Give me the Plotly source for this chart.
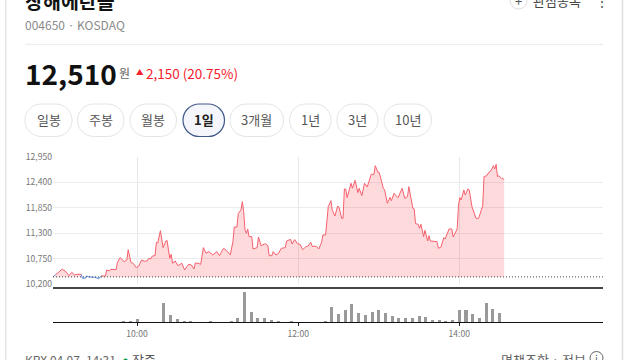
import numpy as np
import plotly.graph_objects as go

# ---- data ----
elapsed_minutes = [0,2,4,6,7,9,11,12,14,16,18,21,22,24,25,27,31,34,36,39,40,42,43,47,48,50,53,55,56,58,60,62,64,66,68,70,71,73,74,76,77,78,80,82,84,85,86,87,88,89,91,93,96,98,101,103,105,106,108,110,112,114,116,119,122,124,127,129,132,134,135,137,138,140,141,142,143,144,145,146,148,149,152,153,155,158,160,161,163,164,166,168,170,173,174,177,178,180,182,184,186,188,190,192,193,196,198,200,201,203,205,207,208,210,212,213,215,216,217,218,219,222,223,225,227,228,230,232,234,237,239,240,242,243,246,247,249,251,252,254,255,257,260,262,264,265,268,269,270,272,273,274,276,277,279,280,281,286,287,289,291,292,295,297,298,301,302,303,304,306,307,309,310,312,315,317,319,320,321,323,325,326,328,329,330,331,332,334,336]
prices = [10358,10416,10452,10510,10524,10488,10430,10387,10459,10402,10416,10416,10330,10330,10380,10358,10351,10322,10380,10380,10510,10488,10524,10517,10675,10776,10690,10726,10949,10675,10646,10560,10603,10726,10697,10704,10754,10754,10812,10819,11107,11093,11359,10992,11136,11143,10942,10762,10848,10654,10704,10603,10654,10510,10632,10618,10531,10661,10654,10632,10992,10870,10906,10834,10906,10819,10978,10934,10834,11122,11438,11438,11734,11806,11986,11770,11374,11302,11395,11230,11230,10963,10992,11222,11035,11078,11035,10819,10819,10906,10834,10870,10978,10992,11136,11172,11071,11165,11078,11064,10949,11006,11028,11107,11021,11021,10963,11107,11266,11266,11878,12007,11798,11676,11892,11863,11626,11626,12259,12259,12072,12382,12274,12446,12180,12274,12115,12382,12302,12576,12576,12763,12619,12612,12274,12238,11950,12079,12007,12166,12130,12072,12274,12058,12094,12310,11842,11827,11510,11496,11410,11496,11230,11366,11136,11251,11136,11122,10978,11006,11208,11179,11395,11395,11222,11395,11914,12072,12022,12238,12130,12259,12238,11878,11626,11626,11806,11892,12526,12547,12634,12648,12763,12691,12792,12526,12547,12490,12468]
previous_close = 10360
volume_slots = list(range(-12, 55))
volumes = [.4,.4,.4,.4,0,.4,0,0,.4,.4,4,3,9,.4,.4,.4,57,22,9,5,5,.4,.4,5,.4,.4,5,14,90,30,14,12,8,2,.4,4,.4,.4,.4,.4,4,47,24,38,54,28,22,30,36,27,18,14,14,14,18,16,6,6,4,7,37,36,25,12,58,39,28]
price_ticks = [10200,10750,11300,11850,12400,12950]
price_tick_labels = ["10,200","10,750","11,300","11,850","12,400","12,950"]
time_ticks = [600,720,840]
time_tick_labels = ["10:00","12:00","14:00"]
tab_labels = ["일봉","주봉","월봉","1일","3개월","1년","3년","10년"]

# ---- derived ----
W, H = 640, 360
FONT = "Noto Sans CJK KR"
x = 537.4 + np.array(elapsed_minutes, float)
p = np.array(prices, float)
above = p >= previous_close
below = ~above
blue_mask = below | np.r_[below[1:], False] | np.r_[False, below[:-1]]
vx = 600 + 5 * np.array(volume_slots, float)

def px(v): return v / W
def py(v): return 1 - v / H

fig = go.Figure()
fig.add_trace(go.Scatter(x=x, y=np.full_like(p, previous_close), mode="lines", line=dict(width=0), hoverinfo="skip", showlegend=False))
fig.add_trace(go.Scatter(x=x, y=np.maximum(p, previous_close), mode="lines", line=dict(width=0), fill="tonexty", fillcolor="rgba(250,60,75,0.19)", hoverinfo="skip", showlegend=False))
fig.add_trace(go.Scatter(x=x, y=np.full_like(p, previous_close), mode="lines", line=dict(width=0), hoverinfo="skip", showlegend=False))
fig.add_trace(go.Scatter(x=x, y=np.minimum(p, previous_close), mode="lines", line=dict(width=0), fill="tonexty", fillcolor="rgba(60,110,230,0.19)", hoverinfo="skip", showlegend=False))
fig.add_trace(go.Scatter(x=x, y=np.where(above, p, np.nan), mode="lines", line=dict(color="#f5606c", width=1), connectgaps=False, showlegend=False))
fig.add_trace(go.Scatter(x=x, y=np.where(blue_mask, p, np.nan), mode="lines", line=dict(color="#5c8fe6", width=1), showlegend=False))
fig.add_trace(go.Bar(x=vx, y=volumes, width=2.3, marker=dict(color="#999999", line=dict(width=0)), xaxis="x2", yaxis="y2", showlegend=False))

xr = [537.4, 947]
fig.update_layout(
    width=W, height=H, margin=dict(l=0, r=0, t=0, b=0, autoexpand=False), autosize=False,
    paper_bgcolor="white", plot_bgcolor="white", showlegend=False, bargap=0,
    font=dict(family=FONT, color="#777777", size=10),
    xaxis=dict(domain=[px(53), px(603)], range=xr, anchor="y", tickvals=time_ticks, showticklabels=False,
               showgrid=True, gridcolor="#e8e8e8", gridwidth=1, zeroline=False, ticks=""),
    yaxis=dict(domain=[py(284.3), py(157)], range=[10200, 12950], tickvals=price_ticks, ticktext=price_tick_labels,
               showgrid=True, gridcolor="#ececec", gridwidth=1, zeroline=False, ticks="", ticklen=0,
               tickfont=dict(size=8.6, color="#777777", family=FONT)),
    xaxis2=dict(domain=[px(53), px(603)], range=xr, anchor="y2", tickvals=time_ticks, ticktext=time_tick_labels,
                showgrid=False, zeroline=False, ticks="outside", ticklen=3, tickcolor="#222222", tickwidth=1,
                showline=True, linecolor="#111111", linewidth=1, tickfont=dict(size=8.6, color="#777777", family=FONT)),
    yaxis2=dict(domain=[py(322.3), py(288)], range=[0, 103], showticklabels=False, showgrid=False, zeroline=False, ticks=""),
)

shapes = []
def line(x0, y0, x1, y1, color, width=1, dash=None):
    shapes.append(dict(type="line", xref="paper", yref="paper", x0=px(x0), y0=py(y0), x1=px(x1), y1=py(y1),
                       line=dict(color=color, width=width, **({"dash": dash} if dash else {})), layer="above"))

line(5.8, 0, 5.8, 360, "#e4e4e4", 1.5)
line(622.5, 0, 622.5, 360, "#dedede", 1.5)
line(25, 44.3, 603, 44.3, "#e9e9e9", 1)
line(53, 288, 603, 288, "#444444", 2)
shapes.append(dict(type="line", xref="x", yref="y", x0=xr[0], x1=xr[1], y0=previous_close, y1=previous_close,
                   line=dict(color="#444444", width=1, dash="1px,2px"), layer="above"))

def pill(x0, x1, y0=104, y1=136.5, border="#e4e4e4", fill="white", width=1):
    r = (y1 - y0) / 2
    a, b = px(x0), px(x1)
    ya, yb = py(y0), py(y1)
    rx, ry = r / W, r / H
    k = 0.5523
    d = (f"M {a+rx} {ya} L {b-rx} {ya} C {b-rx+k*rx} {ya} {b} {ya-ry+k*ry} {b} {ya-ry} "
         f"C {b} {ya-ry-k*ry} {b-rx+k*rx} {yb} {b-rx} {yb} L {a+rx} {yb} "
         f"C {a+rx-k*rx} {yb} {a} {yb+ry-k*ry} {a} {yb+ry} C {a} {yb+ry+k*ry} {a+rx-k*rx} {ya} {a+rx} {ya} Z")
    shapes.append(dict(type="path", xref="paper", yref="paper", path=d, line=dict(color=border, width=width), fillcolor=fill, layer="below"))

tab_edges = [(25,72),(77.5,124),(130,176.5),(183,224.5),(230,283.5),(289.5,331),(337,378),(384,431.5)]
for i, (a, b) in enumerate(tab_edges):
    if i == 3:
        pill(a, b, border="#41598a", fill="#f4f6fb", width=1.2)
    else:
        pill(a, b)

shapes.append(dict(type="circle", xref="paper", yref="paper", x0=px(510), x1=px(527), y0=py(9), y1=py(-8), line=dict(color="#dddddd", width=1)))
shapes.append(dict(type="circle", xref="paper", yref="paper", x0=px(590), x1=px(603), y0=py(364.5), y1=py(351.5), line=dict(color="#666666", width=1)))
fig.update_layout(shapes=shapes)

def text(s, x_, y_, size, color, anchor="left", vanchor="middle", bold=False):
    fig.add_annotation(xref="paper", yref="paper", x=px(x_), y=py(y_), text=f"<b>{s}</b>" if bold else s, showarrow=False,
                       xanchor=anchor, yanchor=vanchor, borderpad=0, borderwidth=0,
                       font=dict(size=size, color=color, family=FONT))

text("창해에탄올", 25, 1, 19.5, "#111111", bold=True)
text("004650 · KOSDAQ", 25, 25, 12, "#8a8a8a")
text("12,510", 25, 73, 28, "#111111", bold=True)
text("원", 118.5, 72.5, 12, "#666666")
text("▲", 136, 72, 7.5, "#f5202e")
text("2,150 (20.75%)", 146, 73.5, 13.5, "#f5202e")
for lab, (a, b) in zip(tab_labels, tab_edges):
    sel = lab == "1일"
    text(lab, (a + b) / 2, 120, 13, "#222222" if sel else "#555555", anchor="center", bold=sel)
text("관심종목", 533, 0, 13, "#444444")
text("⋮", 602, 1, 14, "#555555", anchor="center")
text("KRX 04.07. 14:31", 25, 359, 12, "#666666")
text("●", 125, 359, 5, "#0a9d4a", anchor="center")
text("장중", 132, 359, 13, "#555555")
text("면책조항 · 정보", 586, 359, 13, "#666666", anchor="right")
text("i", 596.5, 358, 10, "#666666", anchor="center")
text("+", 518.5, 0, 13, "#555555", anchor="center")

fig.write_html("out.html", config={"displayModeBar": False}, post_script="""
document.documentElement.style.margin='0';document.documentElement.style.overflow='hidden';
document.body.style.margin='0';document.body.style.overflow='hidden';
var g=document.getElementsByClassName('plotly-graph-div')[0];
g.style.position='fixed';g.style.left='0';g.style.top='0';
""")
